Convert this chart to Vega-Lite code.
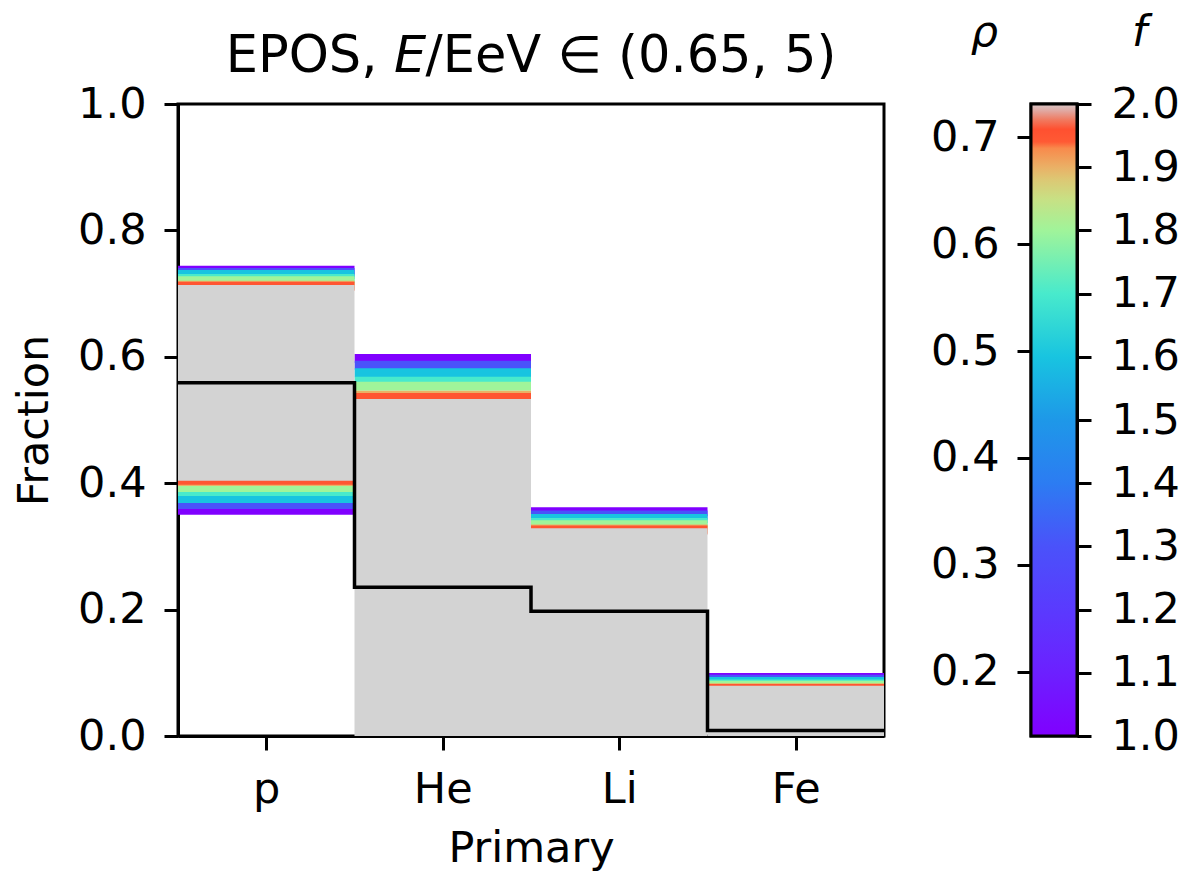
{
  "$schema": "https://vega.github.io/schema/vega-lite/v6.json",
  "padding": {"left": 12, "top": 9, "right": 5, "bottom": 0},
  "background": "white",
  "config": {
    "font": "DejaVu Sans",
    "view": {"stroke": "black", "strokeWidth": 3},
    "axis": {
      "labelFont": "DejaVu Sans", "labelFontSize": 43, "labelColor": "black",
      "titleFont": "DejaVu Sans", "titleFontSize": 43, "titleFontWeight": "normal", "titleColor": "black",
      "tickColor": "black", "tickWidth": 3, "tickSize": 14,
      "domainColor": "black", "domainWidth": 3, "grid": false,
      "labelPadding": 15, "zindex": 1
    }
  },
  "datasets": {
    "bins": [
      {"primary": "p", "start": 0, "end": 1, "lo": 0.404, "hi": 0.7136},
      {"primary": "He", "start": 1, "end": 2, "lo": 0, "hi": 0.5332},
      {"primary": "Li", "start": 2, "end": 3, "lo": 0, "hi": 0.3286},
      {"primary": "Fe", "start": 3, "end": 4, "lo": 0, "hi": 0.0796}
    ],
    "bounds": [
      {"primary": "p", "start": 0, "end": 1, "bound": "upper", "f": 1.0, "value": 0.7370},
      {"primary": "p", "start": 0, "end": 1, "bound": "upper", "f": 1.3, "value": 0.7334},
      {"primary": "p", "start": 0, "end": 1, "bound": "upper", "f": 1.6, "value": 0.7302},
      {"primary": "p", "start": 0, "end": 1, "bound": "upper", "f": 1.7, "value": 0.7239},
      {"primary": "p", "start": 0, "end": 1, "bound": "upper", "f": 1.8, "value": 0.7203},
      {"primary": "p", "start": 0, "end": 1, "bound": "upper", "f": 1.9, "value": 0.7133},
      {"primary": "p", "start": 0, "end": 1, "bound": "upper", "f": 1.95, "value": 0.7117},
      {"primary": "p", "start": 0, "end": 1, "bound": "lower", "f": 1.0, "value": 0.3573},
      {"primary": "p", "start": 0, "end": 1, "bound": "lower", "f": 1.3, "value": 0.3663},
      {"primary": "p", "start": 0, "end": 1, "bound": "lower", "f": 1.6, "value": 0.3758},
      {"primary": "p", "start": 0, "end": 1, "bound": "lower", "f": 1.7, "value": 0.3869},
      {"primary": "p", "start": 0, "end": 1, "bound": "lower", "f": 1.8, "value": 0.3932},
      {"primary": "p", "start": 0, "end": 1, "bound": "lower", "f": 1.9, "value": 0.4027},
      {"primary": "p", "start": 0, "end": 1, "bound": "lower", "f": 1.95, "value": 0.4048},
      {"primary": "He", "start": 1, "end": 2, "bound": "upper", "f": 1.0, "value": 0.5973},
      {"primary": "He", "start": 1, "end": 2, "bound": "upper", "f": 1.3, "value": 0.5867},
      {"primary": "He", "start": 1, "end": 2, "bound": "upper", "f": 1.6, "value": 0.5747},
      {"primary": "He", "start": 1, "end": 2, "bound": "upper", "f": 1.7, "value": 0.5614},
      {"primary": "He", "start": 1, "end": 2, "bound": "upper", "f": 1.8, "value": 0.5535},
      {"primary": "He", "start": 1, "end": 2, "bound": "upper", "f": 1.9, "value": 0.5392},
      {"primary": "He", "start": 1, "end": 2, "bound": "upper", "f": 1.95, "value": 0.5356},
      {"primary": "Li", "start": 2, "end": 3, "bound": "upper", "f": 1.0, "value": 0.3547},
      {"primary": "Li", "start": 2, "end": 3, "bound": "upper", "f": 1.3, "value": 0.3498},
      {"primary": "Li", "start": 2, "end": 3, "bound": "upper", "f": 1.6, "value": 0.3441},
      {"primary": "Li", "start": 2, "end": 3, "bound": "upper", "f": 1.7, "value": 0.3380},
      {"primary": "Li", "start": 2, "end": 3, "bound": "upper", "f": 1.8, "value": 0.3343},
      {"primary": "Li", "start": 2, "end": 3, "bound": "upper", "f": 1.9, "value": 0.3277},
      {"primary": "Li", "start": 2, "end": 3, "bound": "upper", "f": 1.95, "value": 0.3259},
      {"primary": "Fe", "start": 3, "end": 4, "bound": "upper", "f": 1.0, "value": 0.0926},
      {"primary": "Fe", "start": 3, "end": 4, "bound": "upper", "f": 1.3, "value": 0.0896},
      {"primary": "Fe", "start": 3, "end": 4, "bound": "upper", "f": 1.6, "value": 0.0862},
      {"primary": "Fe", "start": 3, "end": 4, "bound": "upper", "f": 1.7, "value": 0.0824},
      {"primary": "Fe", "start": 3, "end": 4, "bound": "upper", "f": 1.8, "value": 0.0802},
      {"primary": "Fe", "start": 3, "end": 4, "bound": "upper", "f": 1.9, "value": 0.0763},
      {"primary": "Fe", "start": 3, "end": 4, "bound": "upper", "f": 1.95, "value": 0.0752}
    ],
    "step": [
      {"edge": 0, "fraction": 0.559},
      {"edge": 1, "fraction": 0.2355},
      {"edge": 2, "fraction": 0.1975},
      {"edge": 3, "fraction": 0.0088},
      {"edge": 4, "fraction": 0.0088}
    ],
    "rho": [{"rho": 0.140, "c": 0.5}, {"rho": 0.731, "c": 0.5}],
    "colorbar": [{"f_lo": 1.0, "f_hi": 2.0, "c0": 0, "c1": 1}]
  },
  "spacing": 36,
  "hconcat": [
    {
      "width": 706,
      "height": 632,
      "title": {
        "text": "EPOS, 𝘌/EeV ∈ (0.65, 5)",
        "font": "DejaVu Sans", "fontSize": 51, "fontWeight": "normal", "color": "black",
        "frame": "group", "anchor": "middle", "offset": 0
      },
      "layer": [
        {
          "data": {"name": "bounds"},
          "mark": {"type": "rule", "strokeWidth": 9, "strokeCap": "butt"},
          "encoding": {
            "x": {
              "field": "start", "type": "quantitative",
              "scale": {"domain": [0, 4], "nice": false, "zero": false},
              "axis": {
                "title": "Primary", "values": [0.5, 1.5, 2.5, 3.5],
                "labelExpr": "['p', 'He', 'Li', 'Fe'][floor(datum.value)]",
                "labelPadding": 18, "titlePadding": 16
              }
            },
            "x2": {"field": "end"},
            "y": {
              "field": "value", "type": "quantitative",
              "scale": {"domain": [0, 1], "nice": false},
              "axis": {"title": "Fraction", "values": [0, 0.2, 0.4, 0.6, 0.8, 1.0], "format": ".1f", "labelPadding": 18, "titlePadding": 21}
            },
            "color": {
              "field": "f", "type": "quantitative", "legend": null,
              "scale": {
                "domain": [1.0, 1.1, 1.2, 1.3, 1.4, 1.5, 1.6, 1.7, 1.8, 1.85, 1.88, 1.9, 1.93, 1.94, 1.96, 1.975, 1.99, 2.0],
                "range": ["#8000ff", "#6c20ff", "#5a3afe", "#4a52fa", "#2c7cf2", "#1e98e8", "#18c4e0", "#48eacc", "#a0f49a", "#c8e084", "#dcc874", "#eab066", "#f88a4c", "#ff5a34", "#ff5030", "#f07a60", "#e0aaa4", "#d8c8c8"]
              }
            }
          }
        },
        {
          "data": {"name": "bins"},
          "mark": {"type": "rect", "fill": "#d3d3d3"},
          "encoding": {
            "x": {"field": "start", "type": "quantitative"},
            "x2": {"field": "end"},
            "y": {"field": "lo", "type": "quantitative"},
            "y2": {"field": "hi"}
          }
        },
        {
          "data": {"name": "step"},
          "mark": {"type": "line", "interpolate": "step-after", "color": "black", "strokeWidth": 3.5},
          "encoding": {
            "x": {"field": "edge", "type": "quantitative"},
            "y": {"field": "fraction", "type": "quantitative"}
          }
        }
      ]
    },
    {
      "width": 46,
      "height": 632,
      "layer": [
        {
          "data": {"name": "rho"},
          "mark": {"type": "point", "opacity": 0},
          "encoding": {
            "x": {"field": "c", "type": "quantitative", "scale": {"domain": [0, 1], "nice": false}, "axis": null},
            "y": {
              "field": "rho", "type": "quantitative",
              "scale": {"domain": [0.14, 0.731], "nice": false, "zero": false},
              "axis": {
                "orient": "left", "title": "ρ", "values": [0.2, 0.3, 0.4, 0.5, 0.6, 0.7], "format": ".1f",
                "labelPadding": 18, "titleAngle": 0, "titleX": -47, "titleY": -72,
                "titleAlign": "center", "titleBaseline": "middle", "titleFontStyle": "italic"
              }
            }
          }
        },
        {
          "data": {"name": "colorbar"},
          "mark": {
            "type": "rect", "stroke": "black", "strokeWidth": 3,
            "fill": {
              "gradient": "linear", "x1": 0, "y1": 1, "x2": 0, "y2": 0,
              "stops": [
                {"offset": 0.0, "color": "#8000ff"},
                {"offset": 0.1, "color": "#6c20ff"},
                {"offset": 0.2, "color": "#5a3afe"},
                {"offset": 0.3, "color": "#4a52fa"},
                {"offset": 0.4, "color": "#2c7cf2"},
                {"offset": 0.5, "color": "#1e98e8"},
                {"offset": 0.6, "color": "#18c4e0"},
                {"offset": 0.7, "color": "#48eacc"},
                {"offset": 0.8, "color": "#a0f49a"},
                {"offset": 0.85, "color": "#c8e084"},
                {"offset": 0.88, "color": "#dcc874"},
                {"offset": 0.9, "color": "#eab066"},
                {"offset": 0.93, "color": "#f88a4c"},
                {"offset": 0.94, "color": "#ff5a34"},
                {"offset": 0.96, "color": "#ff5030"},
                {"offset": 0.975, "color": "#f07a60"},
                {"offset": 0.99, "color": "#e0aaa4"},
                {"offset": 1.0, "color": "#d8c8c8"}
              ]
            }
          },
          "encoding": {
            "x": {"field": "c0", "type": "quantitative"},
            "x2": {"field": "c1"},
            "y": {
              "field": "f_lo", "type": "quantitative",
              "scale": {"domain": [1, 2], "nice": false, "zero": false},
              "axis": {
                "orient": "right", "title": "f", "values": [1.0, 1.1, 1.2, 1.3, 1.4, 1.5, 1.6, 1.7, 1.8, 1.9, 2.0], "format": ".1f",
                "labelPadding": 20, "titleAngle": 0, "titleX": 62, "titleY": -72,
                "titleAlign": "center", "titleBaseline": "middle", "titleFontStyle": "italic"
              }
            },
            "y2": {"field": "f_hi"}
          }
        }
      ],
      "resolve": {"scale": {"y": "independent"}, "axis": {"y": "independent"}}
    }
  ]
}
